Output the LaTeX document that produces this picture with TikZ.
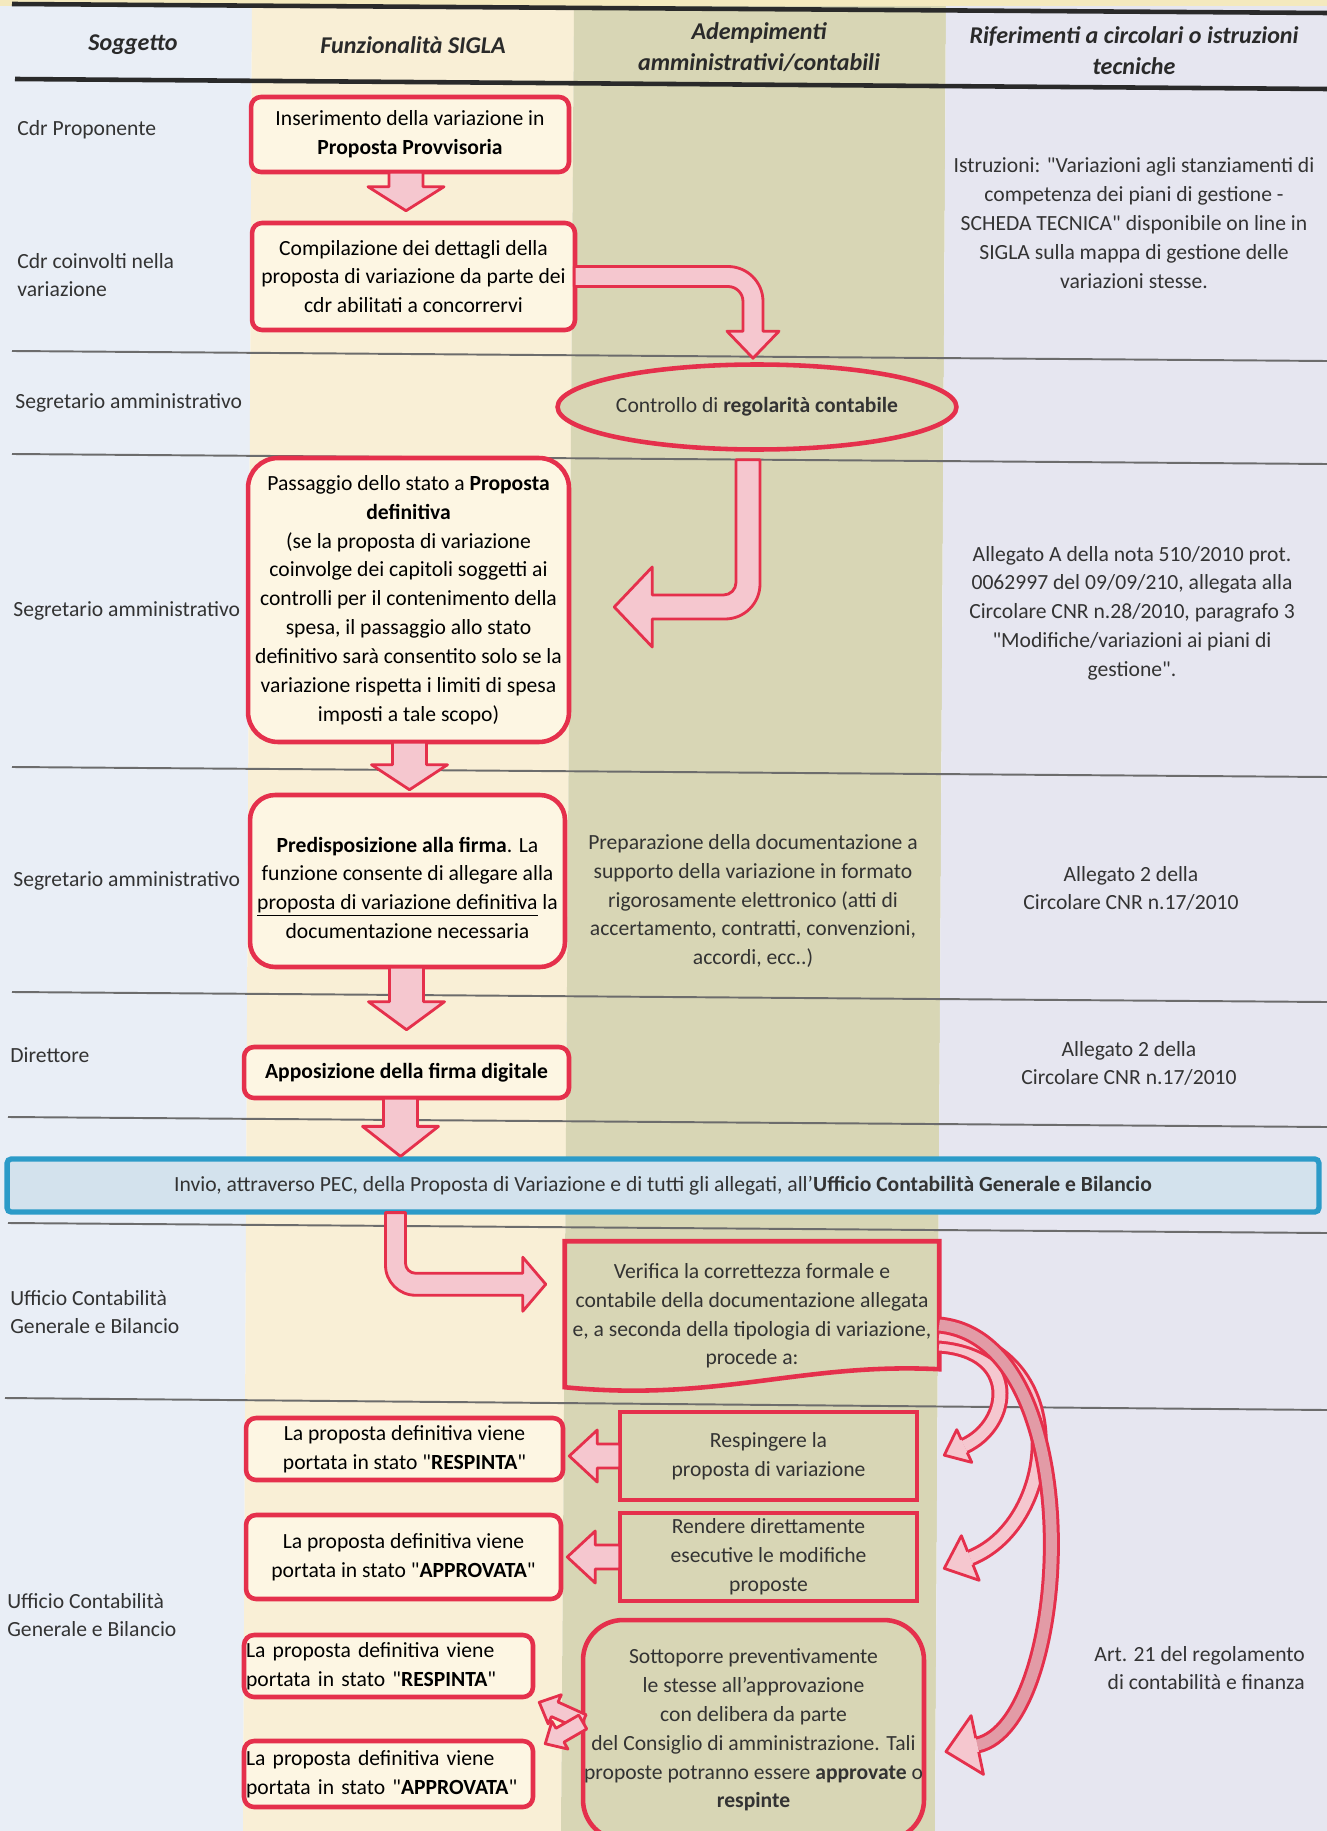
\documentclass[tikz,border=0pt]{standalone}
\usepackage{fontspec}
\setmainfont{Carlito}
\usetikzlibrary{calc,positioning,shapes.geometric,backgrounds}

\definecolor{rosso}{HTML}{E5304C}
\definecolor{rosa}{HTML}{F5C7CF}
\definecolor{rosascuro}{HTML}{E29BA6}
\definecolor{crema}{HTML}{FDF6E3}
\definecolor{colsogg}{HTML}{E9EEF6}
\definecolor{colsigla}{HTML}{F9EFD6}
\definecolor{kaki}{HTML}{D8D6B5}
\definecolor{colrif}{HTML}{E6E6F0}
\definecolor{grigioriga}{HTML}{6C6C6C}
\definecolor{nerolinea}{HTML}{2A2A2A}
\definecolor{grigiotesto}{HTML}{333333}
\definecolor{blupec}{HTML}{2C9BC8}
\definecolor{azzurro}{HTML}{D3E2ED}
\definecolor{giallino}{HTML}{F4E9BE}

\newcommand{\testo}{\fontsize{12.3}{16.4}\selectfont}
\newcommand{\intestazione}{\fontsize{13.7}{17.6}\selectfont\bfseries\itshape}
\newcommand{\virg}{\textquotedbl}

% freccia piena dritta: partenza, punta, mezzo fusto, mezza testa, lunghezza testa
\newcommand{\frecciablocco}[5]{%
  \coordinate (fbase) at ($(#2)!#5!(#1)$);
  \draw[freccia] ($(#1)!#3!90:(#2)$) -- ($(fbase)!#3!90:(#2)$) -- ($(fbase)!#4!90:(#2)$) -- (#2) -- ($(fbase)!#4!-90:(#2)$) -- ($(fbase)!#3!-90:(#2)$) -- ($(#1)!#3!-90:(#2)$) -- cycle;}

% freccia curva: inizio, fine, controlli, colore, mezza testa, lunghezza testa
\newcommand{\frecciacurva}[7]{%
  \draw[rosso,line width=0.34cm] (#1) .. controls (#3) and (#4) .. (#2);
  \draw[#5,line width=0.22cm] (#1) .. controls (#3) and (#4) .. (#2);
  \coordinate (fpunta) at ($(#2)!-#7!(#4)$);
  \fill[rosa] ($(#2)!#6!90:(#4)$) -- (fpunta) -- ($(#2)!#6!-90:(#4)$) -- cycle;
  \draw[rosso,line width=1.6pt,line join=round] ($(#2)!0.14cm!90:(#4)$) -- ($(#2)!#6!90:(#4)$) -- (fpunta) -- ($(#2)!#6!-90:(#4)$) -- ($(#2)!0.14cm!-90:(#4)$);}

\begin{document}
\begin{tikzpicture}[x=0.02cm,y=-0.02cm,
		fase/.style={draw=rosso,line width=2.6pt,fill=crema,rounded corners=0.2cm,align=center,font=\testo,text=black,inner sep=0pt},
		attivita/.style={draw=rosso,line width=2.6pt,fill=kaki,align=center,font=\testo,text=grigiotesto,inner sep=0pt},
		nota/.style={align=center,font=\testo,text=grigiotesto},
		soggetto/.style={anchor=west,align=left,font=\testo,text=grigiotesto,inner sep=0pt},
		titolo/.style={align=center,font=\intestazione,text=nerolinea},
		freccia/.style={draw=rosso,line width=1.6pt,fill=rosa,line join=round},
		riga/.style={draw=grigioriga,line width=1.1pt},
		bordo/.style={draw=nerolinea,line width=2.6pt}
		]
		\useasboundingbox (0,0) rectangle (1327,1831);
		
		\begin{scope}[on background layer]
		\fill[colsogg] (0,0) -- (252,0) -- (243,1831) -- (0,1831) -- cycle;
		\fill[colsigla] (252,0) -- (574,0) -- (561,1831) -- (243,1831) -- cycle;
		\fill[kaki] (574,0) -- (946,0) -- (935,1831) -- (561,1831) -- cycle;
		\fill[colrif] (946,0) -- (1327,0) -- (1327,1831) -- (935,1831) -- cycle;
		\fill[giallino] (0,0) rectangle (1327,6);
		\draw[bordo] (12,4) -- (1327,13);
		\draw[bordo] (15,79) -- (1327,89);
		\draw[riga] (12,351) -- (1327,361) (12,454) -- (1327,464) (12,767) -- (1327,777) (12,992) -- (1327,1002) (8,1117) -- (1327,1127) (8,1223) -- (1327,1233) (5,1398) -- (1327,1410);
		\end{scope}
		
		% intestazione
		\node[titolo] (t1) at (133,45) {Soggetto};
		\node[titolo] (t2) at (413,45) {Funzionalità SIGLA};
		\node[titolo] (t3) at (759,47) {Adempimenti\\amministrativi/contabili};
		\node[titolo] (t4) at (1134,51) {Riferimenti a circolari o istruzioni\\tecniche};
		
		% soggetti
		\node[soggetto] (sog1) at (17,130) {Cdr Proponente};
		\node[soggetto] (sog2) at (17,275) {Cdr coinvolti nella\\variazione};
		\node[soggetto] (sog3) at (15,403) {Segretario amministrativo};
		\node[soggetto] (sog4) at (13,611) {Segretario amministrativo};
		\node[soggetto] (sog5) at (13,881) {Segretario amministrativo};
		\node[soggetto] (sog6) at (10,1055) {Direttore};
		\node[soggetto] (sog7) at (10,1312) {Ufficio Contabilità\\Generale e Bilancio};
		\node[soggetto] (sog8) at (7,1615) {Ufficio Contabilità\\Generale e Bilancio};
		
		% funzionalita SIGLA
		\node[fase,minimum width=6.36cm,minimum height=1.5cm] (ins) at (410,134.5) {Inserimento della variazione in\\\textbf{Proposta Provvisoria}};
		\node[fase,minimum width=6.46cm,minimum height=2.14cm] (comp) at (413.5,276.5) {Compilazione dei dettagli della\\proposta di variazione da parte dei\\cdr abilitati a concorrervi};
		\node[fase,rounded corners=0.6cm,minimum width=6.42cm,minimum height=5.68cm] (pass) at (408.5,600) {Passaggio dello stato a \textbf{Proposta}\\\textbf{definitiva}\\(se la proposta di variazione\\coinvolge dei capitoli soggetti ai\\controlli per il contenimento della\\spesa, il passaggio allo stato\\definitivo sarà consentito solo se la\\variazione rispetta i limiti di spesa\\imposti a tale scopo)};
		\node[fase,rounded corners=0.5cm,minimum width=6.3cm,minimum height=3.44cm] (pred) at (407.5,881) {\mbox{}\\\textbf{Predisposizione alla firma}. La\\funzione consente di allegare alla\\\underline{proposta di variazione definitiva} la\\documentazione necessaria};
		\node[fase,minimum width=6.5cm,minimum height=1.02cm] (appo) at (406.5,1072.5) {\textbf{Apposizione della firma digitale}};
		\node[fase,minimum width=6.34cm,minimum height=1.24cm] (r1) at (404.5,1449) {La proposta definitiva viene\\portata in stato \virg\textbf{RESPINTA}\virg};
		\node[fase,minimum width=6.3cm,minimum height=1.68cm] (a1) at (403.5,1557) {La proposta definitiva viene\\portata in stato \virg\textbf{APPROVATA}\virg};
		\node[fase,align=left,text width=5.7cm,inner xsep=0.04cm,minimum height=1.24cm] (r2) at (388.5,1666) {La proposta definitiva viene\\portata in stato \virg\textbf{RESPINTA}\virg};
		\node[fase,align=left,text width=5.7cm,inner xsep=0.04cm,minimum height=1.32cm] (a2) at (388.5,1774) {La proposta definitiva viene\\portata in stato \virg\textbf{APPROVATA}\virg};
		
		% adempimenti
		\node[ellipse,draw=rosso,line width=2.6pt,fill=kaki,minimum width=6.9cm,minimum height=1.7cm,inner sep=0pt,font=\testo,text=grigiotesto] (contr) at (757,407) {Controllo di \textbf{regolarità contabile}};
		\node[nota] (prep) at (753,901) {Preparazione della documentazione a\\supporto della variazione in formato\\rigorosamente elettronico (atti di\\accertamento, contratti, convenzioni,\\accordi, ecc..)};
		\node[attivita,draw=none,fill=none,minimum width=7.4cm,minimum height=2.9cm] (verif) at (752,1316) {Verifica la correttezza formale e\\contabile della documentazione allegata\\e, a seconda della tipologia di variazione,\\procede a:};
		\begin{scope}[on background layer]
		\draw[draw=rosso,line width=2.6pt,fill=kaki] (verif.north west) -- (verif.north east) -- ($(verif.north east)+(0,128)$) .. controls +(-137,-7) and +(153,15) .. ($(verif.north west)+(0,146)$) -- cycle;
		\end{scope}
		\node[attivita,minimum width=5.94cm,minimum height=1.76cm] (resp) at (768.5,1456) {Respingere la\\proposta di variazione};
		\node[attivita,minimum width=5.94cm,minimum height=1.76cm] (rend) at (768.5,1557) {Rendere direttamente\\esecutive le modifiche\\proposte};
		\node[attivita,rounded corners=0.8cm,minimum width=6.82cm,minimum height=4.4cm] (sott) at (753.5,1730) {Sottoporre preventivamente\\le stesse all'approvazione\\con delibera da parte\\del Consiglio di amministrazione. Tali\\proposte potranno essere \textbf{approvate} o\\\textbf{respinte}};
		
		% invio PEC
		\node[draw=blupec,line width=3pt,fill=azzurro,rounded corners=0.08cm,minimum width=26.24cm,minimum height=1.06cm,inner sep=0pt,font=\testo,text=grigiotesto] (invio) at (663,1185.5) {Invio, attraverso PEC, della Proposta di Variazione e di tutti gli allegati, all'\textbf{Ufficio Contabilità Generale e Bilancio}};
		
		% riferimenti
		\node[nota] (n1) at (1134,223) {Istruzioni: \virg Variazioni agli stanziamenti di\\competenza dei piani di gestione -\\SCHEDA TECNICA\virg{} disponibile on line in\\SIGLA sulla mappa di gestione delle\\variazioni stesse.};
		\node[nota] (n2) at (1132,613) {Allegato A della nota 510/2010 prot.\\0062997 del 09/09/210, allegata alla\\Circolare CNR n.28/2010, paragrafo 3\\\virg Modifiche/variazioni ai piani di\\gestione\virg.};
		\node[nota] (n3) at (1131,888.5) {Allegato 2 della\\Circolare CNR n.17/2010};
		\node[nota] (n4) at (1129,1063.5) {Allegato 2 della\\Circolare CNR n.17/2010};
		\node[nota,anchor=east,align=right] (n5) at (1311,1668) {Art. 21 del regolamento\\di contabilità e finanza};
		
		% frecce verso il basso
		\coordinate (g1a) at ($(ins.south)+(-4,-2)$);
		\coordinate (g1b) at ($(ins.south |- comp.north)+(-4,-10)$);
		\coordinate (g2a) at ($(pass.south)+(1,-2)$);
		\coordinate (g2b) at ($(pass.south |- pred.north)+(1,-3)$);
		\coordinate (g3a) at ($(pred.south)+(-1,-2)$);
		\coordinate (g3b) at ($(pred.south |- appo.north)+(-1,-15)$);
		\coordinate (g4a) at ($(appo.south)+(-6,-2)$);
		\coordinate (g4b) at ($(appo.south |- invio.north)+(-6,0)$);
		\frecciablocco{g1a}{g1b}{0.34cm}{0.76cm}{0.48cm}
		\frecciablocco{g2a}{g2b}{0.34cm}{0.76cm}{0.5cm}
		\frecciablocco{g3a}{g3b}{0.34cm}{0.76cm}{0.56cm}
		\frecciablocco{g4a}{g4b}{0.34cm}{0.76cm}{0.6cm}
		
		% frecce piegate
		\coordinate (a2t) at ($(contr.north)+(-4,-4)$);
		\coordinate (a2g) at (comp.east -| a2t);
		\draw[freccia] ($(comp.east)+(-3,-10)$) [rounded corners=0.7cm] -- ($(a2g)+(10,-10)$) [sharp corners] -- ($(a2t)+(10,-27)$) -- ++(16,0) -- (a2t) -- ++(-26,-27) -- ++(16,0) [rounded corners=0.3cm] -- ($(a2g)+(-10,10)$) [sharp corners] -- ($(comp.east)+(-3,10)$) -- cycle;
		
		\coordinate (a3t) at ($(pass.east)+(43,7)$);
		\coordinate (a3g) at ($(contr.south |- a3t)+(-9,0)$);
		\coordinate (a3s) at ($(contr.south)+(-9,8)$);
		\draw[freccia] ($(a3s)+(12,0)$) [rounded corners=0.7cm] -- ($(a3g)+(12,12)$) [sharp corners] -- ($(a3t)+(38,12)$) -- ++(0,28) -- (a3t) -- ++(38,-40) -- ++(0,28) [rounded corners=0.25cm] -- ($(a3g)+(-12,-12)$) [sharp corners] -- ($(a3s)+(-12,0)$) -- cycle;
		
		\coordinate (a7t) at ($(verif.north west)+(-19,43)$);
		\coordinate (a7s) at ($(appo.south |- invio.south)+(-11,-2)$);
		\coordinate (a7g) at (a7s |- a7t);
		\draw[freccia] ($(a7s)+(-10,0)$) [rounded corners=0.6cm] -- ($(a7g)+(-10,11)$) [sharp corners] -- ($(a7t)+(-23,11)$) -- ++(0,16) -- (a7t) -- ++(-23,-27) -- ++(0,16) [rounded corners=0.2cm] -- ($(a7g)+(10,-11)$) [sharp corners] -- ($(a7s)+(10,0)$) -- cycle;
		
		% frecce verso sinistra
		\coordinate (l1a) at ($(resp.west)+(2,0)$);
		\coordinate (l1b) at ($(r1.east |- resp.west)+(4,0)$);
		\coordinate (l2a) at ($(rend.west)+(2,0)$);
		\coordinate (l2b) at ($(a1.east |- rend.west)+(4,0)$);
		\frecciablocco{l1a}{l1b}{0.24cm}{0.52cm}{0.56cm}
		\frecciablocco{l2a}{l2b}{0.24cm}{0.52cm}{0.56cm}
		
		% delibera: approvata o respinta
		\coordinate (dv) at ($(sott.west)+(2,-8)$);
		\coordinate (dr) at ($(r2.south east)+(4,3)$);
		\coordinate (da) at ($(a2.north east)+(10,5)$);
		\frecciablocco{dv}{dr}{0.16cm}{0.32cm}{0.34cm}
		\frecciablocco{dv}{da}{0.16cm}{0.32cm}{0.34cm}
		
		% frecce curve dalla verifica
		\coordinate (c3s) at ($(verif.east)+(0,29)$);
		\coordinate (c3e) at ($(resp.east)+(45,-10)$);
		\coordinate (c3p) at ($(c3s)+(80,5)$);
		\coordinate (c3q) at ($(c3e)+(48,-22)$);
		\coordinate (c2s) at ($(verif.east)+(0,19)$);
		\coordinate (c2e) at ($(rend.east)+(51,1)$);
		\coordinate (c2p) at ($(c2s)+(135,10)$);
		\coordinate (c2q) at ($(c2e)+(90,-36)$);
		\coordinate (c1s) at ($(verif.east)+(0,9)$);
		\coordinate (c1e) at ($(sott.east)+(51,15)$);
		\coordinate (c1p) at ($(c1s)+(153,15)$);
		\coordinate (c1q) at ($(c1e)+(95,-20)$);
		\frecciacurva{c3s}{c3e}{c3p}{c3q}{rosa}{0.36cm}{0.44cm}
		\frecciacurva{c2s}{c2e}{c2p}{c2q}{rosa}{0.48cm}{0.56cm}
		\frecciacurva{c1s}{c1e}{c1p}{c1q}{rosascuro}{0.6cm}{0.64cm}
	\end{tikzpicture}
\end{document}
